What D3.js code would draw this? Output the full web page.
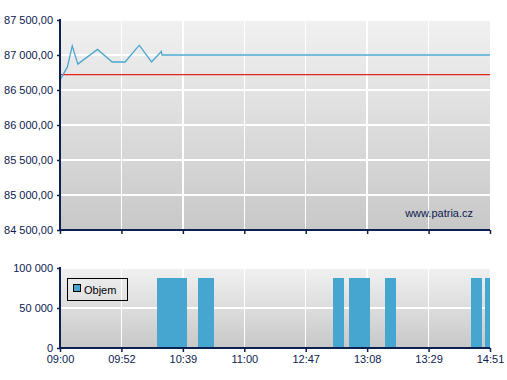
<!DOCTYPE html>
<html><head><meta charset="utf-8">
<script src="https://cdn.jsdelivr.net/npm/d3@7"></script>
<style>
html,body{margin:0;padding:0;background:#fff;}
svg{display:block;font-family:"Liberation Sans",Arial,sans-serif;}
</style></head>
<body><svg id="c" width="507" height="380"></svg>
<script>
// ---- data ----
const xTickLabels = ["09:00","09:52","10:39","11:00","12:47","13:08","13:29","14:51"];
const priceTicks = [84500, 85000, 85500, 86000, 86500, 87000, 87500];
const volumeTicks = [0, 50000, 100000];
// price line: position along the time axis (tick index units) and price
const priceX = [0, 0.12, 0.2, 0.29, 0.61, 0.85, 1.06, 1.29, 1.49, 1.65, 1.66, 7];
const priceY = [86640, 86830, 87130, 86870, 87080, 86900, 86900, 87140, 86900, 87050, 87000, 87000];
const refPrice = 86720;
// volume bars: start / end along the time axis and volume
const volStart = [1.58, 2.25, 4.44, 4.71, 5.29, 6.69, 6.92];
const volEnd   = [2.07, 2.51, 4.62, 5.05, 5.47, 6.87, 7.0];
const volume   = [88000, 88000, 88000, 88000, 88000, 88000, 88000];
const legendLabel = "Objem";
const watermark = "www.patria.cz";

// ---- layout ----
const svg = d3.select("#c");
const L = 60, R = 490;
const top1 = 20, bot1 = 230;
const top2 = 268, bot2 = 348;
const navy = "#0d2150";
const fmtPrice = v => d3.format(",.2f")(v).replace(/,/g, " ").replace(".", ",");
const fmtVol = v => d3.format(",")(v).replace(/,/g, " ");

const x = d3.scaleLinear().domain([0, xTickLabels.length - 1]).range([L, R]);
const y1 = d3.scaleLinear().domain([84500, 87500]).range([bot1, top1]);
const y2 = d3.scaleLinear().domain([0, 100000]).range([bot2, top2]);

const defs = svg.append("defs");
const g = defs.append("linearGradient").attr("id", "bg").attr("x1", 0).attr("y1", 0).attr("x2", 0).attr("y2", 1);
g.append("stop").attr("offset", "0%").attr("stop-color", "#f1f1f1");
g.append("stop").attr("offset", "100%").attr("stop-color", "#c8c8c8");

function panel(top, bot, yScale, ticks, fmt, showXLabels) {
  svg.append("rect").attr("x", L).attr("y", top).attr("width", R - L).attr("height", bot - top)
    .attr("fill", "url(#bg)");
  const grid = svg.append("g").attr("shape-rendering", "crispEdges");
  grid.selectAll(".h").data(ticks).join("line")
    .attr("x1", L).attr("x2", R).attr("y1", d => yScale(d)).attr("y2", d => yScale(d))
    .attr("stroke", "#fff").attr("stroke-width", 1.5);
  grid.selectAll(".v").data(d3.range(1, xTickLabels.length - 1)).join("line")
    .attr("x1", d => x(d)).attr("x2", d => x(d)).attr("y1", top).attr("y2", bot)
    .attr("stroke", "#fff").attr("stroke-width", 1.5);
}

function axes(top, bot, yScale, ticks, fmt, showXLabels) {
  const ya = svg.append("g").attr("transform", `translate(${L},0)`)
    .call(d3.axisLeft(yScale).tickValues(ticks).tickFormat(fmt).tickSize(3).tickPadding(4));
  ya.select(".domain").attr("d", `M0,${top - 1}V${bot}`).attr("stroke", navy).attr("stroke-width", 2);
  ya.selectAll(".tick line").attr("stroke", navy).attr("stroke-width", 1.5);
  ya.selectAll("text").attr("fill", navy).style("font-size", "11px").style("font-family", "'Liberation Sans',Arial,sans-serif");
  const xa = svg.append("g").attr("transform", `translate(0,${bot})`)
    .call(d3.axisBottom(x).tickValues(d3.range(xTickLabels.length))
      .tickFormat(i => showXLabels ? xTickLabels[i] : "").tickSize(4).tickPadding(3));
  xa.select(".domain").attr("d", `M${L - 1},0H${R}`).attr("stroke", navy).attr("stroke-width", 2);
  xa.selectAll(".tick line").attr("stroke", navy).attr("stroke-width", 1.5);
  xa.selectAll("text").attr("fill", navy).style("font-size", "11px").style("font-family", "'Liberation Sans',Arial,sans-serif");
}

// top panel
panel(top1, bot1, y1, priceTicks);
svg.append("text").attr("x", 473).attr("y", 217).attr("text-anchor", "end")
  .attr("fill", navy).style("font-size", "11px").text(watermark);
svg.append("line").attr("x1", L).attr("x2", R).attr("y1", y1(refPrice)).attr("y2", y1(refPrice))
  .attr("stroke", "#e0261e").attr("stroke-width", 1.2);
const pts = priceX.map((v, i) => [v, priceY[i]]);
svg.append("path").datum(pts)
  .attr("d", d3.line().x(d => x(d[0])).y(d => y1(d[1])))
  .attr("fill", "none").attr("stroke", "#4aa6cf").attr("stroke-width", 1.3);
axes(top1, bot1, y1, priceTicks, fmtPrice, false);

// bottom panel
panel(top2, bot2, y2, volumeTicks);
svg.append("g").selectAll("rect").data(volume).join("rect")
  .attr("x", (d, i) => x(volStart[i])).attr("width", (d, i) => x(volEnd[i]) - x(volStart[i]))
  .attr("y", d => y2(d)).attr("height", d => bot2 - y2(d))
  .attr("fill", "#46a6cf").attr("shape-rendering", "crispEdges");
// legend
const lg = svg.append("g").attr("shape-rendering", "crispEdges");
lg.append("rect").attr("x", 67.5).attr("y", 278.5).attr("width", 60).attr("height", 22)
  .attr("fill", "none").attr("stroke", "#000").attr("stroke-width", 1.3);
lg.append("rect").attr("x", 73.5).attr("y", 284.5).attr("width", 7).attr("height", 7)
  .attr("fill", "#46a6cf").attr("stroke", "#000").attr("stroke-width", 1);
svg.append("text").attr("x", 84).attr("y", 294).attr("fill", "#000")
  .style("font-size", "11px").text(legendLabel);
axes(top2, bot2, y2, volumeTicks, fmtVol, true);
</script></body></html>
